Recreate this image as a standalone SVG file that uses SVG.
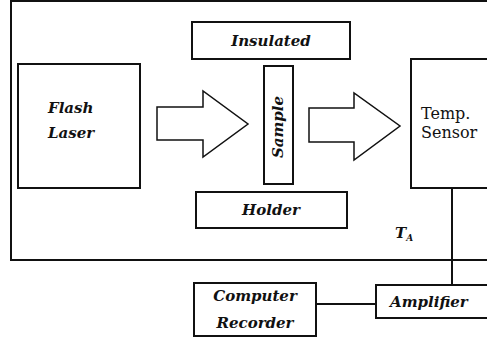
<svg xmlns="http://www.w3.org/2000/svg" width="487" height="341" viewBox="0 0 487 341">
  <style>
    .box { fill: #fff; stroke: #111; stroke-width: 2; }
    .frame { fill: none; stroke: #111; stroke-width: 2; }
    .arrow { fill: #fff; stroke: #111; stroke-width: 1.5; stroke-linejoin: miter; }
    .wire { fill: none; stroke: #111; stroke-width: 2; }
    .lbl { font-family: "DejaVu Serif", serif; font-style: italic; font-weight: bold; font-size: 15px; fill: #111; }
    .up { font-family: "DejaVu Serif", serif; font-size: 16px; fill: #111; }
  </style>

  <!-- chamber outline -->
  <path class="frame" d="M489,1 H11 V260 H489"/>

  <g id="flash-laser">
    <rect class="box" x="18" y="64" width="122" height="124"/>
    <text class="lbl" x="48" y="113" font-size="16">Flash</text>
    <text class="lbl" x="48" y="138" font-size="16">Laser</text>
  </g>

  <g id="pulse-arrow">
    <polygon class="arrow" points="157,107 203,107 203,91 248,124 203,157 203,140 157,140"/>
  </g>

  <g id="insulated">
    <rect class="box" x="192" y="22" width="158" height="37"/>
    <text class="lbl" x="271" y="46" text-anchor="middle">Insulated</text>
  </g>

  <g id="sample">
    <rect class="box" x="264" y="66" width="29" height="118"/>
    <text class="lbl" transform="translate(283,127) rotate(-90)" text-anchor="middle">Sample</text>
  </g>

  <g id="holder">
    <rect class="box" x="196" y="192" width="151" height="36"/>
    <text class="lbl" x="271" y="215" text-anchor="middle" font-size="16">Holder</text>
  </g>

  <g id="emission-arrow">
    <polygon class="arrow" points="309,108 354,108 354,93 400,126 354,160 354,142 309,142"/>
  </g>

  <g id="temp-sensor">
    <rect class="box" x="411" y="59" width="80" height="129"/>
    <text class="up" x="421" y="119">Temp.</text>
    <text class="up" x="421" y="138">Sensor</text>
  </g>

  <g id="ambient-label">
    <text class="lbl" x="395" y="238">T<tspan font-size="9" dy="3">A</tspan></text>
  </g>

  <g id="connectors">
    <line class="wire" x1="452" y1="188" x2="452" y2="285"/>
    <line class="wire" x1="316" y1="304" x2="376" y2="304"/>
  </g>

  <g id="amplifier">
    <rect class="box" x="376" y="285" width="115" height="33"/>
    <text class="lbl" x="390" y="307" font-size="16">Amplifier</text>
  </g>

  <g id="computer-recorder">
    <rect class="box" x="194" y="283" width="122" height="53"/>
    <text class="lbl" x="255" y="301" text-anchor="middle">Computer</text>
    <text class="lbl" x="255" y="328" text-anchor="middle">Recorder</text>
  </g>
</svg>
